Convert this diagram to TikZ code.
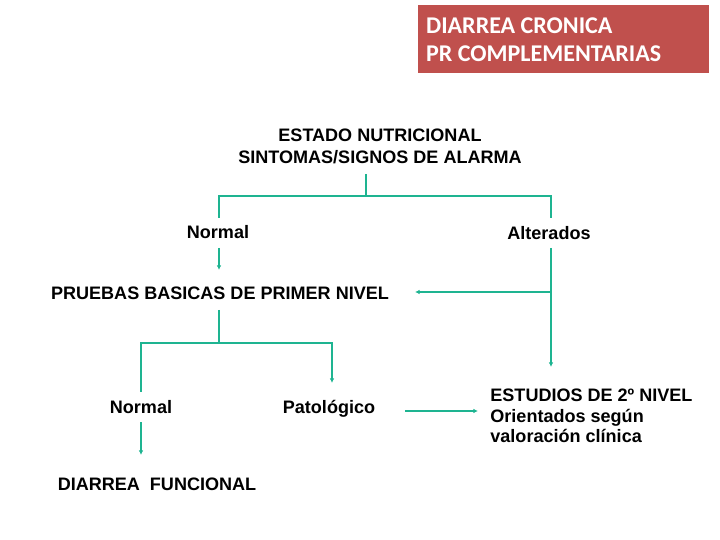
\documentclass[tikz,border=0pt]{standalone}
\usepackage{fontspec}
\setmainfont{Liberation Sans}
\newfontfamily\titlefont{Carlito}
\usetikzlibrary{positioning, arrows.meta, calc}
\definecolor{linkgreen}{RGB}{30,180,145}
\definecolor{titlered}{RGB}{192,80,77}
\tikzset{
  txt/.style={font=\fontsize{15.4}{17.6}\selectfont\bfseries, inner sep=1pt, align=left},
  link/.style={draw=linkgreen, line width=1.4pt},
  arrow/.style={link, -{Latex[length=4pt,width=4pt]}}
}
\begin{document}
\begin{tikzpicture}[x=0.03cm, y=-0.03cm]
    \useasboundingbox (0,0) rectangle (720,540);

    % Recuadro del titulo
    \node[fill=titlered, minimum width=291*0.03cm, minimum height=68*0.03cm, anchor=north west, inner sep=0pt] (title) at (418,5) {};
    \node[anchor=west, text=white, align=left, font=\titlefont\fontsize{20.5}{23.8}\selectfont\bfseries] (titletext) at (422,40) {DIARREA CRONICA\\PR COMPLEMENTARIAS};

    % Nodos
    \node[txt, align=center, font=\fontsize{15.4}{18.7}\selectfont\bfseries] (estado) at (380,146) {ESTADO NUTRICIONAL\\SINTOMAS/SIGNOS DE ALARMA};
    \node[txt] (normalA) at (218,232) {Normal};
    \node[txt] (alterados) at (549,233) {Alterados};
    \node[txt] (pruebas) at (220,293) {PRUEBAS BASICAS DE PRIMER NIVEL};
    \node[txt] (normalB) at (141,407) {Normal};
    \node[txt, anchor=base] (patol) at (329,414) {Patológico};
    \node[txt, anchor=west, align=left] (estudios) at (489,416) {ESTUDIOS DE 2º NIVEL\\Orientados según\\valoración clínica};
    \node[txt] (funcional) at (157,484) {DIARREA\ \ FUNCIONAL};

    % Coordenadas de los cruces
    \coordinate (topA) at (366,174);
    \coordinate (splitA) at (366,196);
    \coordinate (rightA) at (551,292);
    \coordinate (topB) at (219,310);
    \coordinate (splitB) at (219,343);
    \coordinate (fromPat) at (405,411);

    % --- PRIMER NIVEL ---
    \draw[link] (topA) -- (splitA);
    \draw[link] (splitA) -| (219,218);
    \draw[link] (splitA) -| (551,218);
    \draw[arrow] (219,248) -- (219,270);
    \draw[arrow] (551,248) -- (551,367);
    \draw[arrow] (rightA) -- (415,292);

    % --- SEGUNDO NIVEL ---
    \draw[link] (topB) -- (splitB);
    \draw[link] (splitB) -| (141,392);
    \draw[arrow] (splitB) -| (332,383);
    \draw[arrow] (141,422) -- (141,455);
    \draw[arrow] (fromPat) -- ($(fromPat -| estudios.west)+(-11,0)$);

\end{tikzpicture}
\end{document}
